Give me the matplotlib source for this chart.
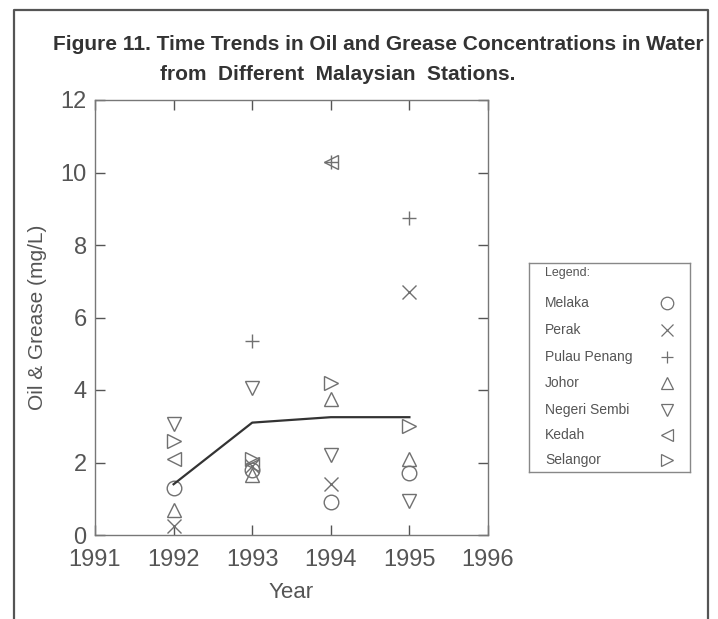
import numpy as np
import matplotlib
matplotlib.use("Agg")
import matplotlib.pyplot as plt
from matplotlib.lines import Line2D

# data
years = [1992, 1993, 1994, 1995]
stations = ["Melaka", "Perak", "Pulau Penang", "Johor", "Negeri Sembi", "Kedah", "Selangor"]
markers = ["o", "x", "+", "^", "v", "<", ">"]
melaka = [1.3, 1.8, 0.9, 1.7]
perak = [0.25, 1.9, 1.4, 6.7]
pulau_penang = [np.nan, 5.35, 10.3, 8.75]
johor = [0.7, 1.65, 3.75, 2.1]
negeri_sembilan = [3.05, 4.05, 2.2, 0.95]
kedah = [2.1, 1.95, 10.3, np.nan]
selangor = [2.6, 2.1, 4.2, 3.0]
trend = [1.4, 3.1, 3.25, 3.25]
series = [melaka, perak, pulau_penang, johor, negeri_sembilan, kedah, selangor]

W, H = 718, 619
fig = plt.figure(figsize=(W / 100, H / 100), dpi=100)
plt.rcParams["font.family"] = ["Liberation Sans", "DejaVu Sans"]

gray = "#555555"
mk_col = "#707070"

# main axes
ax = fig.add_axes([95 / W, 1 - 535 / H, (488 - 95) / W, (535 - 100) / H])
for vals, m in zip(series, markers):
    ax.plot(years, vals, linestyle="none", marker=m, markersize=10.5,
            markerfacecolor="none", markeredgecolor=mk_col, markeredgewidth=1.0)
ax.plot(years, trend, color="#333333", linewidth=1.6)

ax.set_xlim(1991, 1996)
ax.set_ylim(0, 12)
ax.set_xticks(range(1991, 1997))
ax.set_yticks(range(0, 13, 2))
ax.tick_params(direction="in", length=7, width=1, colors=gray, labelsize=17,
               top=True, right=True)
ax.tick_params(axis="x", pad=10)
ax.tick_params(axis="y", pad=6)
for sp in ax.spines.values():
    sp.set_color("#777777")
    sp.set_linewidth(1.0)
ax.set_xlabel("Year", fontsize=16, color=gray, labelpad=8)
ax.set_ylabel("Oil & Grease (mg/L)", fontsize=15, color=gray, labelpad=10)

# title, shrunk to the width of the original narrow typeface
t1 = fig.text(53 / W, 1 - 45 / H, "Figure 11. Time Trends in Oil and Grease Concentrations in Water",
              fontsize=16, fontweight="bold", color="#333333", ha="left", va="center")
fig.canvas.draw()
w1 = t1.get_window_extent().width
fs = 16 * (700 - 53) / w1
t1.set_fontsize(fs)
fig.text(160 / W, 1 - 74 / H, "from  Different  Malaysian  Stations.",
         fontsize=fs, fontweight="bold", color="#333333", ha="left", va="center")

# legend box drawn by hand (text left, symbol right)
lax = fig.add_axes([529 / W, 1 - 472 / H, (690 - 529) / W, (472 - 263) / H])
lax.set_xlim(0, 1)
lax.set_ylim(472, 263)
lax.set_xticks([])
lax.set_yticks([])
for sp in lax.spines.values():
    sp.set_color("#888888")
    sp.set_linewidth(1.0)
lax.text(0.1, 273, "Legend:", fontsize=9, color=gray, va="center", ha="left")
rows = [303, 330, 357, 383, 410, 435, 460]
for name, m, yy in zip(stations, markers, rows):
    lax.text(0.1, yy, name, fontsize=10, color=gray, va="center", ha="left")
    lax.plot([0.857], [yy], marker=m, markersize=9, markerfacecolor="none",
             markeredgecolor=mk_col, markeredgewidth=0.9)

# outer frame of the scanned page
frame = Line2D([14 / W, 14 / W, 708 / W, 708 / W], [0, 1 - 10 / H, 1 - 10 / H, 0],
               transform=fig.transFigure, color="#555555", linewidth=1.6)
fig.add_artist(frame)

fig.savefig("out.png", dpi=100)
